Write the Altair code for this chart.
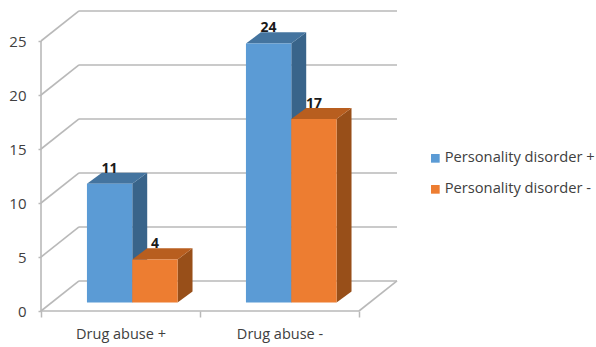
import altair as alt
import pandas as pd

categories = ["Drug abuse +", "Drug abuse -"]
series = ["Personality disorder +", "Personality disorder -"]
values_plus = [11, 24]
values_minus = [4, 17]
y_ticks = [0, 5, 10, 15, 20, 25]

# Oblique projection of the chart box, in data units
BOX_DX, BOX_DY = 0.239, 2.78
BAR_DX, BAR_DY = 0.094, 1.02
BAR_W, BAR_START, BAR_BASE = 0.285, 0.289, 0.78
N_CAT = len(categories)

GRID = "#b9b9b9"
TEXT = "#404040"
FRONT = ["#5B9BD5", "#ED7D31"]
TOP = ["#44749F", "#B85E1F"]
SIDE = ["#39648A", "#984F19"]

x_scale = alt.Scale(domain=[0, 357 / 159], nice=False, zero=False)
y_scale = alt.Scale(domain=[0, 300 / 10.8], nice=False, zero=False)


def X(field="x", axis=None):
    return alt.X(f"{field}:Q", scale=x_scale, title=None, axis=axis)


def Y(field="y", axis=None):
    return alt.Y(f"{field}:Q", scale=y_scale, title=None, axis=axis)


# Box frame: back walls, slanted floor/wall lines, front edges
back = pd.DataFrame([{"x": BOX_DX, "x2": N_CAT + BOX_DX, "y": v + BOX_DY} for v in y_ticks])
slant = pd.DataFrame(
    [r for v in y_ticks for r in ({"id": v, "x": 0, "y": v}, {"id": v, "x": BOX_DX, "y": v + BOX_DY})]
    + [{"id": "right", "x": N_CAT, "y": 0}, {"id": "right", "x": N_CAT + BOX_DX, "y": BOX_DY}]
)
front_edges = pd.DataFrame(
    [{"x": 0, "x2": 0, "y": 0, "y2": y_ticks[-1]}, {"x": 0, "x2": N_CAT, "y": 0, "y2": 0}]
)

back_rules = alt.Chart(back).mark_rule(color=GRID, strokeWidth=1.6).encode(
    x=X(), x2="x2:Q", y=Y()
)
slant_lines = alt.Chart(slant).mark_line(color=GRID, strokeWidth=1.6).encode(
    x=X(), y=Y(), detail="id:N"
)
edge_rules = alt.Chart(front_edges).mark_rule(color=GRID, strokeWidth=1.6).encode(
    x=X(), x2="x2:Q", y=Y(), y2="y2:Q"
)

# Value axis, category tick marks and category names, each on its own invisible layer
y_axis_layer = alt.Chart(pd.DataFrame({"y": y_ticks})).mark_point(opacity=0).encode(
    y=Y(axis=alt.Axis(values=y_ticks, orient="left", domain=False, grid=False, tickSize=3,
                      tickColor=GRID, tickWidth=1.5,
                      labelFontSize=15, labelFont="Open Sans", labelColor=TEXT,
                      labelPadding=12)),
)
x_ticks_layer = alt.Chart(pd.DataFrame({"x": list(range(N_CAT + 1))})).mark_point(opacity=0).encode(
    x=X(axis=alt.Axis(values=list(range(N_CAT + 1)), orient="bottom", labels=False, domain=False,
                      grid=False, tickSize=6, tickColor=GRID, tickWidth=1.5)),
)
names_expr = f"datum.value < 1 ? '{categories[0]}' : '{categories[1]}'"
x_names_layer = alt.Chart(pd.DataFrame({"x": [i + 0.5 for i in range(N_CAT)]})).mark_point(opacity=0).encode(
    x=X(axis=alt.Axis(values=[i + 0.5 for i in range(N_CAT)], orient="bottom", labelExpr=names_expr,
                      domain=False, grid=False, ticks=False, labelPadding=16, labelFontSize=14.5,
                      labelFont="Open Sans", labelColor=TEXT)),
)

layers = [y_axis_layer, x_ticks_layer, x_names_layer, back_rules, slant_lines, edge_rules]
label_rows = []

for c in range(N_CAT):
    for s, vals in enumerate([values_plus, values_minus]):
        v = vals[c]
        xl = c + BAR_START + s * BAR_W
        xr = xl + BAR_W
        base, top = BAR_BASE, BAR_BASE + v

        side = pd.DataFrame([
            {"x": xr, "y": base, "y2": top},
            {"x": xr + BAR_DX, "y": base + BAR_DY, "y2": top + BAR_DY},
        ])
        layers.append(alt.Chart(side).mark_area(color=SIDE[s], orient="vertical").encode(
            x=X(), y=Y(), y2="y2:Q"))

        cap = pd.DataFrame([
            {"x": xl, "x2": xr, "y": top},
            {"x": xl + BAR_DX, "x2": xr + BAR_DX, "y": top + BAR_DY},
        ])
        layers.append(alt.Chart(cap).mark_area(color=TOP[s], orient="horizontal").encode(
            y=Y(), x=X(), x2="x2:Q"))

        face = pd.DataFrame([{"x": xl, "x2": xr, "y": base, "y2": top, "series": series[s]}])
        layers.append(alt.Chart(face).mark_rect().encode(
            x=X(), x2="x2:Q", y=Y(), y2="y2:Q",
            color=alt.Color("series:N",
                            scale=alt.Scale(domain=series, range=FRONT),
                            legend=alt.Legend(title=None, orient="none", legendX=387, legendY=140,
                                              symbolType="square", symbolSize=75, symbolStrokeWidth=0,
                                              labelFont="Open Sans", labelFontSize=14.7, labelColor=TEXT,
                                              labelLimit=200, rowPadding=15, labelOffset=2)),
        ))
        label_rows.append({"x": xl + BAR_W / 2, "y": top + BAR_DY, "label": str(v)})

labels = alt.Chart(pd.DataFrame(label_rows)).mark_text(
    font="Open Sans", fontSize=14, fontWeight=700, color="#1a1a1a", baseline="bottom", dy=3
).encode(x=X(), y=Y(), text="label:N")
layers.append(labels)

chart = alt.layer(*layers).resolve_axis(x="independent", y="independent").properties(
    width=357, height=300,
    autosize=alt.AutoSizeParams(type="none"),
    padding={"left": 41, "top": 11, "right": 198, "bottom": 36},
    background="white",
).configure_view(stroke=None)

chart.save("out.html", embed_options={"renderer": "svg", "actions": False})
